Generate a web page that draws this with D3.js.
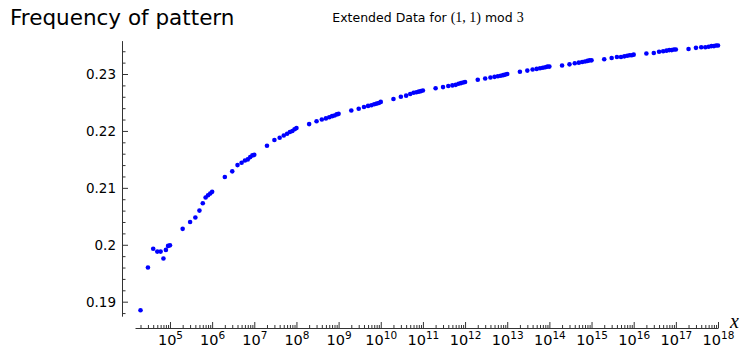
<!DOCTYPE html>
<html>
<head>
<meta charset="utf-8">
<script src="https://cdn.jsdelivr.net/npm/d3@7"></script>
<style>
  body { margin: 0; background: #fff; }
  svg { display: block; }
</style>
</head>
<body>
<div id="chart"></div>
<script>
// sample points per decade: m * 10^k for m = 2..10
var multipliers = [2, 3, 4, 5, 6, 7, 8, 9, 10]
var decades = [4, 5, 6, 7, 8, 9, 10, 11, 12, 13, 14, 15, 16, 17]

var freqE4 = [0.1885, 0.1960, 0.1993, 0.1988, 0.1988, 0.1976, 0.1991, 0.1998, 0.1999]
var freqE5 = [0.2028, 0.2040, 0.2048, 0.2060, 0.2073, 0.2083, 0.2087, 0.2090, 0.2093]
var freqE6 = [0.2119, 0.2129, 0.2140, 0.2144, 0.2148, 0.2150, 0.2154, 0.2157, 0.2158]
var freqE7 = [0.2174, 0.2184, 0.2188, 0.2192, 0.2195, 0.2198, 0.2200, 0.2203, 0.2205]
var freqE8 = [0.2212, 0.2217, 0.2220, 0.2222, 0.2224, 0.2226, 0.2227, 0.2229, 0.2230]
var freqE9 = [0.2236, 0.2239, 0.2242, 0.2244, 0.2245, 0.2247, 0.2248, 0.2249, 0.2251]
var freqE10 = [0.2256, 0.2260, 0.2262, 0.2265, 0.2267, 0.2268, 0.2269, 0.2270, 0.2271]
var freqE11 = [0.2275, 0.2277, 0.2279, 0.2280, 0.2281, 0.2283, 0.2284, 0.2285, 0.2286]
var freqE12 = [0.2290, 0.2292, 0.2294, 0.2295, 0.2296, 0.2297, 0.2298, 0.2299, 0.2300]
var freqE13 = [0.2304, 0.2306, 0.2308, 0.2309, 0.2310, 0.2311, 0.2312, 0.2313, 0.2313]
var freqE14 = [0.2315, 0.2317, 0.2319, 0.2320, 0.2321, 0.2322, 0.2323, 0.2324, 0.2324]
var freqE15 = [0.2326, 0.2328, 0.2330, 0.2330, 0.2331, 0.2332, 0.2333, 0.2333, 0.2334]
var freqE16 = [0.2336, 0.2337, 0.2339, 0.2340, 0.2341, 0.2342, 0.2342, 0.2343, 0.2343]
var freqE17 = [0.2344, 0.2346, 0.2347, 0.2347, 0.2348, 0.2349, 0.2349, 0.2350, 0.2350]

var series = [freqE4, freqE5, freqE6, freqE7, freqE8, freqE9, freqE10,
  freqE11, freqE12, freqE13, freqE14, freqE15, freqE16, freqE17]

var yMajor = [0.19, 0.2, 0.21, 0.22, 0.23]
var xMajorExp = [5, 6, 7, 8, 9, 10, 11, 12, 13, 14, 15, 16, 17, 18]

var title = 'Frequency of pattern'

var width = 751
var height = 357

var points = []
decades.forEach(function (k, i) {
  series[i].forEach(function (v, j) {
    points.push({ x: multipliers[j] * Math.pow(10, k), y: v })
  })
})

var svg = d3.select('#chart')
  .append('svg')
  .attr('width', width)
  .attr('height', height)

var x = d3.scaleLog()
  .domain([1.48e4, 1e18])
  .range([135, 718])

var y = d3.scaleLinear()
  .domain([0.18745, 0.23587])
  .range([316.2, 40.6])

// minor ticks
var yMinor = d3.range(0.188, 0.2355, 0.002).filter(function (v) {
  return !yMajor.some(function (m) { return Math.abs(m - v) < 1e-6 })
})
var xMinor = []
d3.range(4, 18).forEach(function (k) {
  d3.range(2, 10).forEach(function (m) {
    var v = m * Math.pow(10, k)
    if (v >= x.domain()[0]) xMinor.push(v)
  })
})

var axisColor = '#333'

// y axis
var yAxisG = svg.append('g')
  .attr('transform', 'translate(122,0)')
  .call(d3.axisLeft(y)
    .tickValues(yMajor)
    .tickSize(-6)
    .tickSizeOuter(0)
    .tickPadding(6)
    .tickFormat(function (d) { return String(+d.toFixed(2)) }))

svg.append('g')
  .attr('transform', 'translate(122,0)')
  .call(d3.axisLeft(y)
    .tickValues(yMinor)
    .tickSize(-3.5)
    .tickSizeOuter(0)
    .tickFormat(''))
  .call(function (g) { g.select('.domain').remove() })
  .selectAll('line').attr('stroke', axisColor)

yAxisG.select('.domain').attr('stroke', axisColor)
yAxisG.selectAll('line').attr('stroke', axisColor)
yAxisG.selectAll('text')
  .attr('fill', '#000')
  .style('font-family', 'DejaVu Sans')
  .style('font-size', '13.5px')

// x axis
var xAxisG = svg.append('g')
  .attr('transform', 'translate(0,328)')
  .call(d3.axisBottom(x)
    .tickValues(xMajorExp.map(function (e) { return Math.pow(10, e) }))
    .tickSize(-6)
    .tickSizeOuter(0)
    .tickPadding(7)
    .tickFormat(''))

svg.append('g')
  .attr('transform', 'translate(0,328)')
  .call(d3.axisBottom(x)
    .tickValues(xMinor)
    .tickSize(-3)
    .tickSizeOuter(0)
    .tickFormat(''))
  .call(function (g) { g.select('.domain').remove() })
  .selectAll('line').attr('stroke', axisColor)

xAxisG.select('.domain').attr('stroke', axisColor)
xAxisG.selectAll('line').attr('stroke', axisColor)

xAxisG.selectAll('.tick text')
  .data(xMajorExp)
  .attr('fill', '#000')
  .style('font-family', 'DejaVu Sans')
  .style('font-size', '14.5px')
  .each(function (e) {
    var t = d3.select(this)
    t.append('tspan').text('10')
    t.append('tspan')
      .attr('dy', '-6')
      .style('font-size', '10.5px')
      .text(e)
  })

// points
svg.append('g')
  .selectAll('circle')
  .data(points)
  .enter().append('circle')
  .attr('cx', function (d) { return x(d.x) })
  .attr('cy', function (d) { return y(d.y) })
  .attr('r', 2.3)
  .attr('fill', '#0000ff')

// titles
svg.append('text')
  .attr('x', 10)
  .attr('y', 25)
  .style('font-family', 'DejaVu Sans')
  .style('font-size', '21.5px')
  .text(title)

var sub = svg.append('text')
  .attr('x', 428)
  .attr('y', 22)
  .attr('text-anchor', 'middle')
  .style('font-family', 'DejaVu Sans')
  .style('font-size', '12.5px')
sub.append('tspan').text('Extended Data for ')
sub.append('tspan').style('font-family', 'Liberation Serif').style('font-size', '14px').text('(1, 1)')
sub.append('tspan').text(' mod ')
sub.append('tspan').style('font-family', 'Liberation Serif').style('font-size', '14px').text('3')

// x label
svg.append('text')
  .attr('x', 730)
  .attr('y', 328)
  .style('font-family', 'Liberation Serif')
  .style('font-style', 'italic')
  .style('font-size', '20px')
  .text('x')
</script>
</body>
</html>
